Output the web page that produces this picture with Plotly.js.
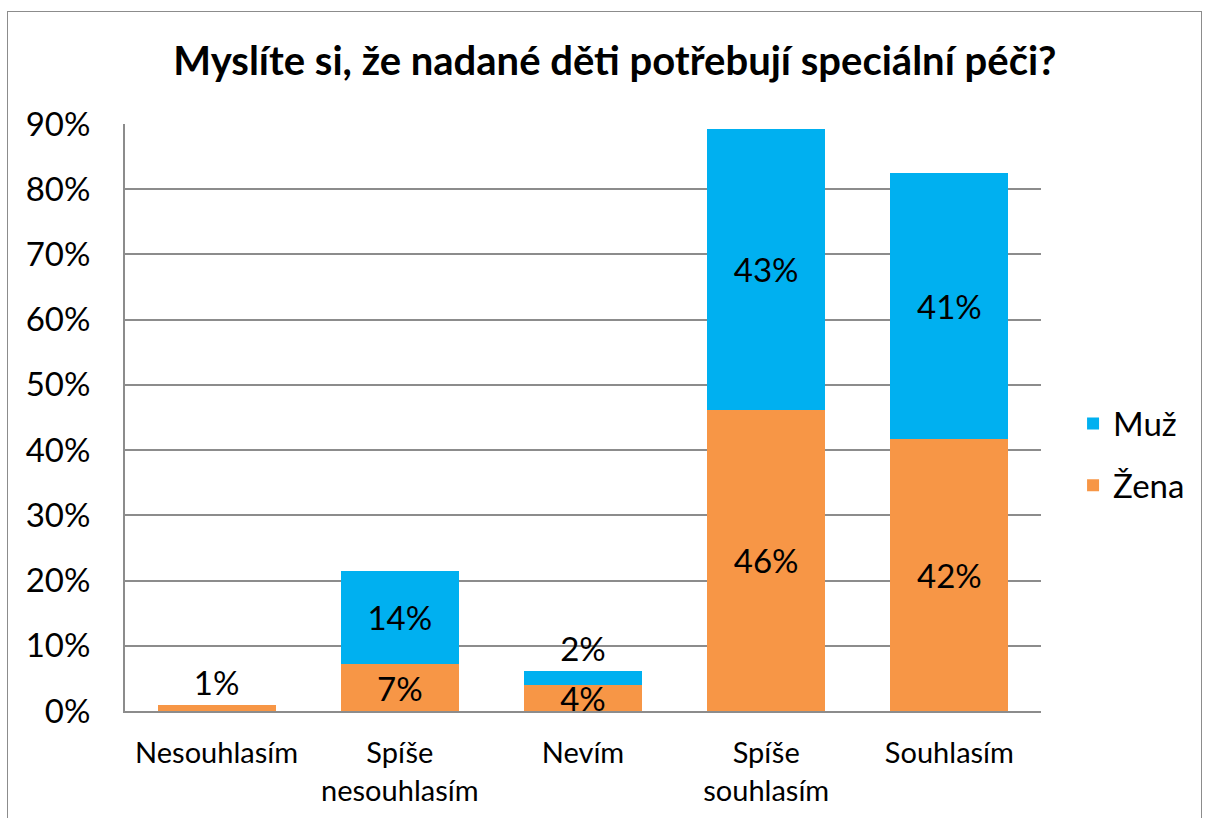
<!DOCTYPE html>
<html>
<head>
<meta charset="utf-8">
<script src="https://cdn.plot.ly/plotly-3.0.1.min.js"></script>
<style>
html,body{margin:0;padding:0;background:#fff;}
#wrap{position:relative;width:1208px;height:818px;}
#chart{width:1208px;height:818px;}
#frame{position:absolute;left:7px;top:11px;width:1193px;height:820px;border:1px solid #8c8c8c;pointer-events:none;}
</style>
</head>
<body>
<div id="wrap"><div id="chart"></div><div id="frame"></div></div>
<script>
const categories = ["Nesouhlasím", "Spíše<br>nesouhlasím", "Nevím", "Spíše<br>souhlasím", "Souhlasím"];
const zena = [0.009, 0.072, 0.040, 0.462, 0.417];
const muz = [null, 0.143, 0.021, 0.430, 0.408];
const titleText = "Myslíte si, že nadané děti potřebují speciální péči?";
const FONT = "Lato, 'Open Sans', sans-serif";

const traces = [
  {
    type: "bar", name: "Žena", x: categories, y: zena, legendgroup: "z", legendrank: 2,
    marker: {color: "#F79646"},
    texttemplate: "%{y:.0%}",
    textposition: ["outside", "inside", "inside", "inside", "inside"],
    insidetextanchor: "middle",
    textfont: {family: FONT, size: 33, color: "#000"},
    constraintext: "none", cliponaxis: false, hoverinfo: "skip"
  },
  {
    type: "bar", name: "Muž", x: categories, y: muz, legendgroup: "m", legendrank: 1,
    marker: {color: "#00B0F0"},
    texttemplate: "%{y:.0%}",
    textposition: ["none", "inside", "outside", "inside", "inside"],
    insidetextanchor: "middle",
    textfont: {family: FONT, size: 33, color: "#000"},
    constraintext: "none", cliponaxis: false, hoverinfo: "skip"
  }
];

const layout = {
  width: 1208, height: 818,
  margin: {l: 125, r: 167, t: 124, b: 107},
  paper_bgcolor: "#fff", plot_bgcolor: "#fff",
  barmode: "stack", bargap: 0.355,
  font: {family: FONT, color: "#000"},
  title: {text: "<b>" + titleText + "</b>", font: {family: FONT, size: 40, color: "#000"},
          x: 0.509, xref: "container", xanchor: "center", y: 0.926, yref: "container", yanchor: "middle"},
  xaxis: {
    showgrid: false, showline: true, linecolor: "#8c8c8c", linewidth: 2,
    tickfont: {family: FONT, size: 29, color: "#000"}, ticks: "", ticklabelstandoff: 15,
    fixedrange: true
  },
  yaxis: {
    range: [0, 0.9], dtick: 0.1, tickformat: ".0%",
    showgrid: true, gridcolor: "#8c8c8c", gridwidth: 2,
    showline: true, linecolor: "#8c8c8c", linewidth: 2,
    zeroline: false, ticks: "", ticklabelstandoff: 26,
    tickfont: {family: FONT, size: 33, color: "#000"}, fixedrange: true
  },
  legend: {
    x: 1.035, xanchor: "left", y: 0.437, yanchor: "middle",
    traceorder: "grouped", tracegroupgap: 16,
    font: {family: FONT, size: 33, color: "#000"}
  },
  showlegend: true
};

Plotly.newPlot("chart", traces, layout, {displayModeBar: false, staticPlot: true});
</script>
</body>
</html>
